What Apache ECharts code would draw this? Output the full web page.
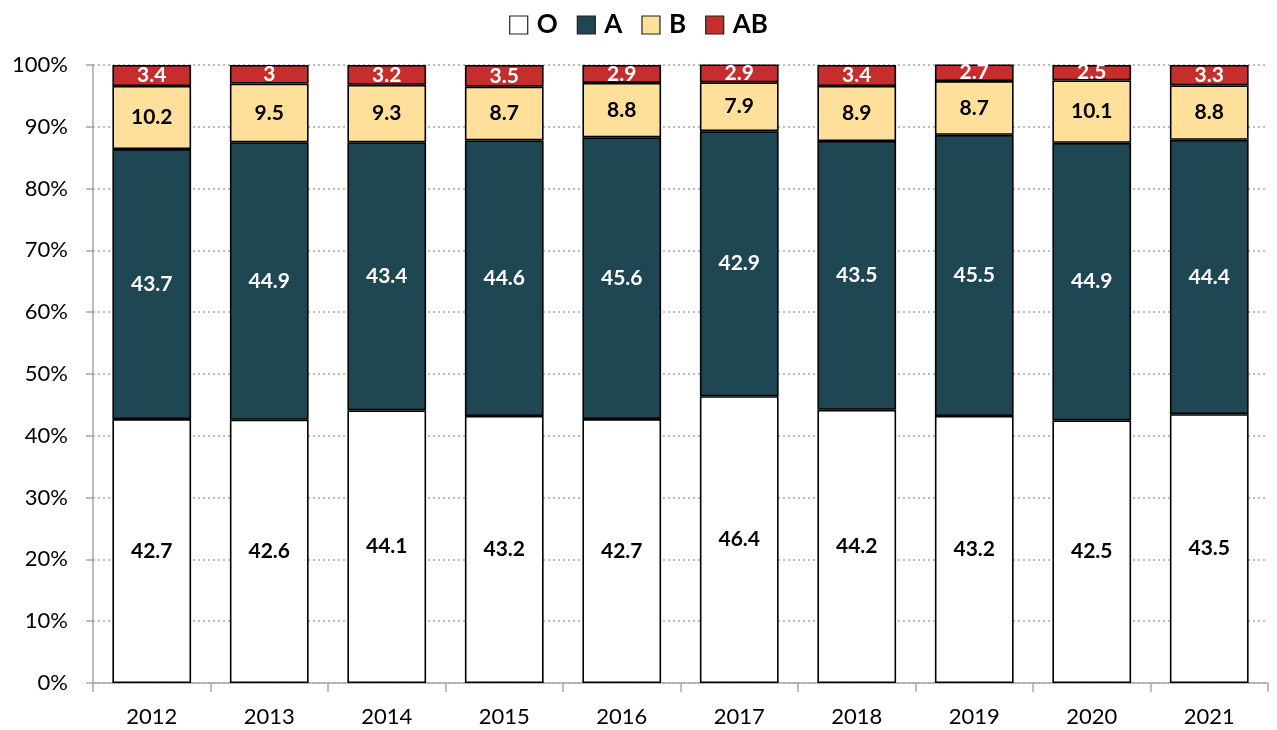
<!DOCTYPE html>
<html><head><meta charset="utf-8">
<script src="https://cdn.jsdelivr.net/npm/echarts@6/dist/echarts.min.js"></script>
<style>html,body{margin:0;padding:0;background:#fff}#c{width:1277px;height:730px}</style>
</head><body><div id="c"></div>
<script>
const years = ['2012','2013','2014','2015','2016','2017','2018','2019','2020','2021'];
const O  = [42.7,42.6,44.1,43.2,42.7,46.4,44.2,43.2,42.5,43.5];
const A  = [43.7,44.9,43.4,44.6,45.6,42.9,43.5,45.5,44.9,44.4];
const B  = [10.2,9.5,9.3,8.7,8.8,7.9,8.9,8.7,10.1,8.8];
const AB = [3.4,3.0,3.2,3.5,2.9,2.9,3.4,2.7,2.5,3.3];
const yTicks = [0,10,20,30,40,50,60,70,80,90,100];

const FONT = 'Lato, "Open Sans", sans-serif';
function mk(name, data, color, labelColor){
  return {
    name, type:'bar', stack:'t', data, barWidth:'67%',
    itemStyle:{color, borderColor:'#000', borderWidth:1.6},
    label:{show:true, position:'inside', color:labelColor, fontWeight:'bold', fontSize:21, fontFamily:FONT,
      formatter:p=>String(p.value)},
    emphasis:{disabled:true}
  };
}
const legIcon = {borderColor:'#222', borderWidth:1.2};
const chart = echarts.init(document.getElementById('c'), null, {renderer:'canvas'});
chart.setOption({
  animation:false,
  legend:{top:7, left:'center', icon:'rect', itemWidth:18, itemHeight:18, itemGap:19,
    textStyle:{fontSize:26, fontWeight:'bold', fontFamily:FONT, color:'#000', padding:[0,0,0,4]},
    data:[{name:'O', itemStyle:legIcon},{name:'A', itemStyle:legIcon},{name:'B', itemStyle:legIcon},{name:'AB', itemStyle:legIcon}]},
  grid:{left:93, right:9, top:65, bottom:47},
  xAxis:{type:'category', data:years,
    axisLine:{lineStyle:{color:'#a6a6a6', width:1.5}},
    axisTick:{show:true, length:9, lineStyle:{color:'#a6a6a6', width:1.5}},
    axisLabel:{fontSize:22, color:'#000', fontFamily:FONT, margin:23}},
  yAxis:{type:'value', min:0, max:100, interval:10,
    axisLine:{show:true, lineStyle:{color:'#a6a6a6', width:1.5}},
    axisTick:{show:true, length:7, lineStyle:{color:'#a6a6a6', width:1.5}},
    splitLine:{lineStyle:{color:'#a6a6a6', type:[2,3], width:1.5}},
    axisLabel:{fontSize:22, color:'#000', fontFamily:FONT, margin:25, formatter:v=>v+'%'}},
  series:[
    mk('O', O, '#ffffff', '#000'),
    mk('A', A, '#1f4753', '#fff'),
    mk('B', B, '#ffe09b', '#000'),
    mk('AB', AB, '#c62e2e', '#fff')
  ]
});
</script></body></html>
